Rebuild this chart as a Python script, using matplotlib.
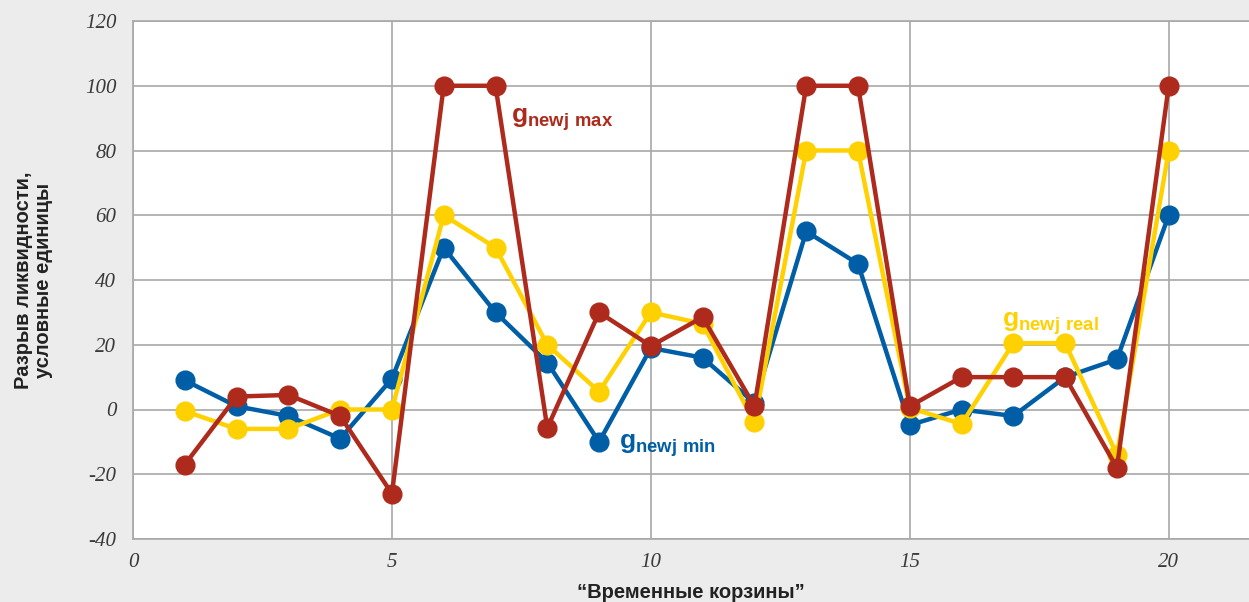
import numpy as np
import matplotlib
matplotlib.use("Agg")
from matplotlib import pyplot as plt

plt.rcParams['mathtext.fontset'] = 'custom'
plt.rcParams['mathtext.bf'] = 'Liberation Sans:bold'
plt.rcParams['mathtext.rm'] = 'Liberation Sans:bold'
plt.rcParams['axes.unicode_minus'] = False

baskets = np.arange(1, 21)
g_min = [9, 1, -2, -9, 9.5, 50, 30, 14.5, -10, 19, 16, 2, 55, 45, -4.8, 0, -2, 10, 15.5, 60]
g_real = [-0.5, -6, -6, 0, 0, 60, 50, 20, 5.5, 30, 26.5, -4, 80, 80, 0.5, -4.5, 20.5, 20.5, -14, 80]
g_max = [-17, 4, 4.5, -2, -26, 100, 100, -5.7, 30, 19.6, 28.5, 1, 100, 100, 1, 10, 10, 10, -18, 100]

blue = '#005ea6'
yellow = '#ffd100'
red = '#ae2a1c'
bg = '#ececec'
gridc = '#a8a8a8'

fig = plt.figure(figsize=(12.49, 6.02), dpi=100)
fig.patch.set_facecolor(bg)
ax = fig.add_axes([133 / 1249, 63 / 602, 1 - 133 / 1249, 518 / 602])
ax.set_facecolor('white')

for vals, col in ((g_min, blue), (g_real, yellow), (g_max, red)):
    ax.plot(baskets, vals, color=col, lw=3.2, marker='o', ms=13.5,
            solid_joinstyle='round', clip_on=False)

ax.set_xlim(0, 21.55)
ax.set_ylim(-40, 120)
ax.set_xticks([0, 5, 10, 15, 20])
ax.set_yticks(np.arange(-40, 121, 20))
ax.grid(True, color=gridc, lw=1.2)
ax.set_axisbelow(True)
ax.tick_params(axis='y', length=0, pad=12)
ax.tick_params(axis='x', length=0, pad=10)
for lab in ax.get_xticklabels() + ax.get_yticklabels():
    lab.set_fontfamily('Liberation Serif')
    lab.set_fontstyle('italic')
    lab.set_fontsize(15)
    lab.set_color('#3a3a3a')

for s in ('left', 'top', 'bottom'):
    ax.spines[s].set_color(gridc)
    ax.spines[s].set_linewidth(1.2)
ax.spines['right'].set_visible(False)

ax.set_xlabel('\u201cВременные корзины\u201d', fontfamily='Liberation Sans',
              fontweight='bold', fontsize=14.5, color='#222222', labelpad=8)
ax.set_ylabel('Разрыв ликвидности,\nусловные единицы', fontfamily='Liberation Sans',
              fontweight='bold', fontsize=14.5, color='#222222', linespacing=1.05)
ax.yaxis.set_label_coords(-0.072, 0.5)

ax.text(7.3, 88.5, r'$\mathbf{g}_{\mathbf{newj\ max}}$', color=red, fontsize=19)
ax.text(9.38, -12, r'$\mathbf{g}_{\mathbf{newj\ min}}$', color=blue, fontsize=19)
ax.text(16.78, 25.5, r'$\mathbf{g}_{\mathbf{newj\ real}}$', color=yellow, fontsize=19)

fig.savefig('out.png', dpi=100, facecolor=bg)
